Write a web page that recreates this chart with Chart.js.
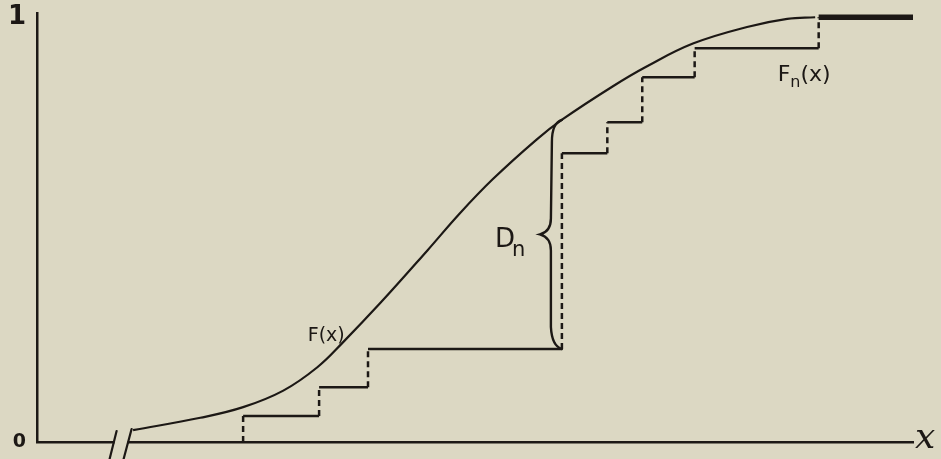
<!DOCTYPE html>
<html><head><meta charset="utf-8">
<script src="https://cdn.jsdelivr.net/npm/chart.js@4"></script>
<style>html,body{margin:0;padding:0;background:#dcd8c3;} canvas{display:block;}</style>
</head><body>
<canvas id="c" width="941" height="459"></canvas>
<script>
// Theoretical CDF F(x)
const curveX = [1.10, 1.87, 2.36, 2.82, 3.21, 3.50, 3.93, 4.47, 4.84, 5.22, 5.72, 6.02, 6.59, 6.98, 7.51, 8.13, 8.59, 8.91];
const curveY = [0.028, 0.057, 0.082, 0.121, 0.176, 0.234, 0.327, 0.451, 0.538, 0.619, 0.712, 0.760, 0.837, 0.884, 0.938, 0.977, 0.996, 1.0];
// Empirical step function Fn(x): jump locations and levels after each jump
const stepX = [2.36, 3.23, 3.79, 6.01, 6.53, 6.93, 7.53, 8.95];
const stepLevel = [0.061, 0.129, 0.219, 0.680, 0.753, 0.859, 0.927, 1.0];
const stepEnd = 10.03;
// Axis ticks
const yTicks = [0, 1];
const yTickLabels = ['0', '1'];
const xAxisLabel = 'x';
const dnStep = 3;          // jump where D_n is marked
const axisBreak = 0.9;     // position of the "//" break on the x axis

const INK = '#1c1815';
const PAPER = '#dcd8c3';

const curveData = curveX.map((x, i) => ({x, y: curveY[i]}));
const stepData = [];
stepX.forEach((x, i) => {
  stepData.push({x, y: i === 0 ? 0 : stepLevel[i - 1]});
  stepData.push({x, y: stepLevel[i]});
});
stepData.push({x: stepEnd, y: stepLevel[stepLevel.length - 1]});
const lastSeg = stepData.length - 1;

function curveAt(x) {
  for (let i = 1; i < curveX.length; i++) {
    if (x <= curveX[i]) {
      const t = (x - curveX[i - 1]) / (curveX[i] - curveX[i - 1]);
      return curveY[i - 1] + t * (curveY[i] - curveY[i - 1]);
    }
  }
  return curveY[curveY.length - 1];
}

const decor = {
  id: 'decor',
  afterDraw(chart) {
    const ctx = chart.ctx, xs = chart.scales.x, ys = chart.scales.y;
    const y0 = ys.getPixelForValue(0);
    ctx.save();
    // axis break
    const b = xs.getPixelForValue(axisBreak);
    ctx.fillStyle = PAPER;
    ctx.fillRect(b - 1, y0 - 3, 13, 6);
    ctx.strokeStyle = INK; ctx.lineWidth = 2.2; ctx.lineCap = 'round';
    ctx.beginPath();
    ctx.moveTo(b - 6, 459); ctx.lineTo(b + 1, y0 - 11);
    ctx.moveTo(b + 8, 459); ctx.lineTo(b + 16, y0 - 13);
    ctx.stroke();
    // D_n brace
    const xr = xs.getPixelForValue(stepX[dnStep]);
    const yt = ys.getPixelForValue(curveAt(stepX[dnStep]));
    const yb = ys.getPixelForValue(stepLevel[dnStep - 1]);
    const ym = (yt + yb) / 2;
    ctx.lineWidth = 2.4;
    ctx.beginPath();
    ctx.moveTo(xr, yt);
    ctx.quadraticCurveTo(xr - 10, yt + 3, xr - 10, yt + 22);
    ctx.lineTo(xr - 11, ym - 16);
    ctx.quadraticCurveTo(xr - 11, ym - 3, xr - 22, ym);
    ctx.quadraticCurveTo(xr - 11, ym + 3, xr - 11, ym + 16);
    ctx.lineTo(xr - 11, yb - 22);
    ctx.quadraticCurveTo(xr - 10, yb - 3, xr, yb);
    ctx.stroke();
    // texts
    ctx.fillStyle = INK;
    ctx.textBaseline = 'alphabetic';
    ctx.textAlign = 'left';
    const tip = xr - 22;
    ctx.font = '26px "DejaVu Sans"';
    ctx.fillText('D', tip - 45, ym + 13);
    ctx.font = '21px "DejaVu Sans"';
    ctx.fillText('n', tip - 28, ym + 22);
    // F(x)
    ctx.font = '19px "DejaVu Sans"';
    ctx.fillText('F(x)', xs.getPixelForValue(3.10), ys.getPixelForValue(0.238));
    // Fn(x)
    let fx = xs.getPixelForValue(8.48), fy = ys.getPixelForValue(0.849);
    ctx.font = '22px "DejaVu Sans"';
    ctx.fillText('F', fx, fy);
    let w = ctx.measureText('F').width;
    ctx.font = '16px "DejaVu Sans"';
    ctx.fillText('n', fx + w, fy + 6);
    w += ctx.measureText('n').width;
    ctx.font = '22px "DejaVu Sans"';
    ctx.fillText('(x)', fx + w, fy);
    // x axis label
    ctx.font = 'italic 36px "DejaVu Serif"';
    ctx.fillText(xAxisLabel, xs.right + 2, y0 + 6);
    ctx.restore();
  }
};

new Chart(document.getElementById('c'), {
  type: 'line',
  data: {
    datasets: [
      {label: 'F(x)', data: curveData, borderColor: INK, borderWidth: 2.2, pointRadius: 0,
       tension: 0.4, fill: false},
      {label: 'Fn(x)', data: stepData, borderColor: INK, borderWidth: 2.5, pointRadius: 0,
       tension: 0, fill: false, borderCapStyle: 'butt',
       segment: {
         borderDash: c => c.p0.parsed.x === c.p1.parsed.x ? [6, 4] : undefined,
         borderWidth: c => c.p1DataIndex === lastSeg ? 5.5 : undefined
       }}
    ]
  },
  options: {
    responsive: false, animation: false, devicePixelRatio: 1,
    layout: {padding: {top: 13, right: 28, left: 0, bottom: 0}},
    plugins: {legend: {display: false}, tooltip: {enabled: false}},
    scales: {
      x: {type: 'linear', min: 0, max: stepEnd,
          grid: {display: false, drawTicks: false},
          border: {display: true, color: INK, width: 2.5},
          ticks: {display: false},
          afterFit(s) { s.height = 17; s.paddingLeft = 0; s.paddingRight = 0; }},
      y: {type: 'linear', min: 0, max: 1.01,
          grid: {display: false, drawTicks: false},
          border: {display: true, color: INK, width: 2.5},
          afterBuildTicks(s) { s.ticks = yTicks.map(v => ({value: v})); },
          ticks: {padding: 11, color: INK,
                  font: c => ({family: 'DejaVu Sans', weight: 'bold', size: (c.tick && c.tick.value === 1) ? 26 : 19}),
                  callback: v => yTickLabels[yTicks.indexOf(v)]},
          afterFit(s) { s.width = 37; s.paddingTop = 0; s.paddingBottom = 0; }}
    }
  },
  plugins: [decor]
});
</script>
</body></html>
